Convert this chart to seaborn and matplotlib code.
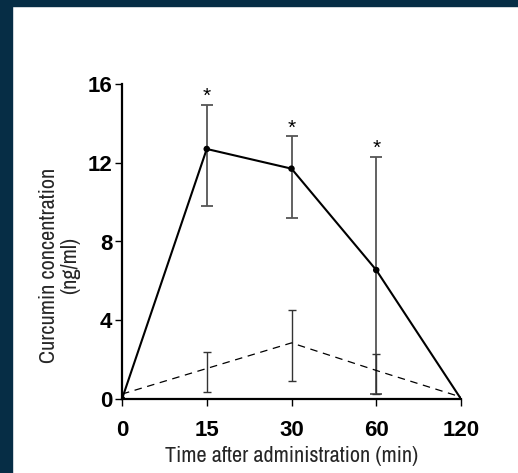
import matplotlib.pyplot as plt
import numpy as np
import pandas as pd
import seaborn as sns
from matplotlib import font_manager
from matplotlib.patches import Rectangle

# Datos (ng/ml)
times = ["0", "15", "30", "60", "120"]
curcumin_mean = [0.0, 12.7, 11.7, 6.55, 0.0]
curcumin_upper = [0.0, 14.95, 13.35, 12.3, 0.0]
curcumin_lower = [0.0, 9.8, 9.2, 0.25, 0.0]
control_mean = [0.25, 1.55, 2.85, 1.45, 0.1]
control_upper = [0.25, 2.4, 4.5, 2.3, 0.1]
control_lower = [0.25, 0.35, 0.9, 0.25, 0.1]
y_ticks = [0, 4, 8, 12, 16]

df = pd.DataFrame({
    "pos": np.arange(len(times)),
    "time": times,
    "curcumin": curcumin_mean,
    "cur_hi": curcumin_upper,
    "cur_lo": curcumin_lower,
    "control": control_mean,
    "ctl_hi": control_upper,
    "ctl_lo": control_lower,
})

sns.set_style("ticks")
plt.rcParams["font.family"] = ["Liberation Sans", "DejaVu Sans"]

# buscar una fuente estrecha para los titulos de los ejes
entries = font_manager.fontManager.ttflist
names = {f.name for f in entries}
label_font = {"family": ["DejaVu Sans"], "fontsize": 12}
narrow_names = sorted(n for n in names if "Narrow" in n or "Condensed" in n)
if "Liberation Sans Narrow" in names:
    label_font = {"family": ["Liberation Sans Narrow"], "fontsize": 16}
elif narrow_names:
    label_font = {"family": [narrow_names[0]], "fontsize": 16}
elif any(f.name == "DejaVu Sans" and "condensed" in str(f.stretch) for f in entries):
    label_font = {"family": ["DejaVu Sans"], "fontstretch": "condensed", "fontsize": 14}

fig = plt.figure(figsize=(5.18, 4.73), dpi=100)
fig.patch.set_facecolor("white")
# marco azul oscuro arriba e izquierda
navy = "#062d45"
fig.add_artist(Rectangle((0, 1 - 6 / 473), 1, 6 / 473, transform=fig.transFigure,
                         color=navy, zorder=0))
fig.add_artist(Rectangle((0, 0), 12 / 518, 1, transform=fig.transFigure,
                         color=navy, zorder=0))

ax = fig.add_axes([122 / 518, 74 / 473, 339 / 518, 315 / 473])

# Curva de curcumina (linea continua)
sns.lineplot(data=df, x="pos", y="curcumin", ax=ax, color="black", linewidth=1.5,
             estimator=None, zorder=3)
sns.scatterplot(data=df.iloc[:4], x="pos", y="curcumin", ax=ax, color="black",
                s=22, edgecolor="none", zorder=4)

# Control (linea discontinua)
sns.lineplot(data=df, x="pos", y="control", ax=ax, color="black", linewidth=0.9,
             estimator=None, zorder=3)
ax.lines[-1].set_dashes([6, 4.5])

# Barras de error en 15, 30 y 60 min
sub = df.iloc[1:4]
ax.errorbar(sub["pos"], sub["curcumin"],
            yerr=[sub["curcumin"] - sub["cur_lo"], sub["cur_hi"] - sub["curcumin"]],
            fmt="none", ecolor="#555555", elinewidth=1.3, capsize=4, capthick=1.3,
            zorder=2)
ax.errorbar(sub["pos"], sub["control"],
            yerr=[sub["control"] - sub["ctl_lo"], sub["ctl_hi"] - sub["control"]],
            fmt="none", ecolor="#333333", elinewidth=1.0, capsize=3, capthick=1.0,
            zorder=2)

# Asteriscos de significancia
for _, row in sub.iterrows():
    ax.annotate("*", (row["pos"], row["cur_hi"]), xytext=(0, -1),
                textcoords="offset points", ha="center", va="bottom",
                fontsize=15, color="black")

ax.set_xlim(0, 4)
ax.set_ylim(0, 16)
ax.set_xticks(df["pos"])
ax.set_xticklabels(times, fontsize=16, fontweight="bold")
ax.set_yticks(y_ticks)
ax.set_yticklabels([str(v) for v in y_ticks], fontsize=16, fontweight="bold")
ax.tick_params(axis="x", length=5, width=1, pad=10, colors="black")
ax.tick_params(axis="y", length=5, width=1, pad=2, colors="black")

ax.set_xlabel("Time after administration (min)", labelpad=4, **label_font)
ax.set_ylabel("Curcumin concentration\n(ng/ml)", linespacing=1.05, **label_font)
ax.yaxis.set_label_coords((80 - 122) / 339, (399 - 265) / 315)

sns.despine(ax=ax)
for side in ["left", "bottom"]:
    ax.spines[side].set_linewidth(1.6)
    ax.spines[side].set_color("black")

fig.savefig("out.png", dpi=100)
